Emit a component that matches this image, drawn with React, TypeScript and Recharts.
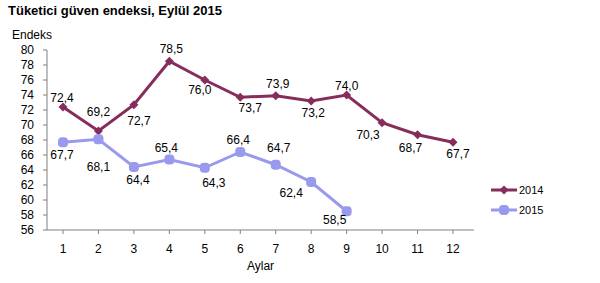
import { LabelList, Line, LineChart, XAxis, YAxis } from "recharts";

const months = ["1", "2", "3", "4", "5", "6", "7", "8", "9", "10", "11", "12"];
const values2014 = [72.4, 69.2, 72.7, 78.5, 76.0, 73.7, 73.9, 73.2, 74.0, 70.3, 68.7, 67.7];
const values2015 = [67.7, 68.1, 64.4, 65.4, 64.3, 66.4, 64.7, 62.4, 58.5];
const yTicks = [56, 58, 60, 62, 64, 66, 68, 70, 72, 74, 76, 78, 80];

// label nudges [dx, dy] per point, as placed in the original
const offsets2014 = [[-1, -9], [0, -19], [5, 16], [2, -12], [-5, 10], [10, 11], [2, -12], [2, 12], [0, -9], [-14, 12], [-7, 13], [5, 12]];
const offsets2015 = [[-1, 13], [0, 28], [4, 13], [-3, -12], [9, 15], [-2, -12], [3, -17], [-20, 11], [-12, 9]];

const c2014 = "#862d5c";
const c2015 = "#9999ee";
const font = "Arial, 'Liberation Sans', sans-serif";

const data = months.map((m, i) => ({ month: m, y2014: values2014[i], y2015: values2015[i] ?? null }));

const fmt = (v: number) => v.toFixed(1).replace(".", ",");

function Diamond({ cx, cy }: any) {
  if (cx == null || cy == null) return null;
  return <path d={`M${cx},${cy - 4.5}L${cx + 4.5},${cy}L${cx},${cy + 4.5}L${cx - 4.5},${cy}Z`} fill={c2014} />;
}

function Dot({ cx, cy }: any) {
  if (cx == null || cy == null) return null;
  return <rect x={cx - 5} y={cy - 5} width={10} height={10} rx={4} fill={c2015} />;
}

const makeLabel = (offsets: number[][]) => (props: any) => {
  const { x, y, value, index } = props;
  if (value == null) return null;
  const [dx, dy] = offsets[index] ?? [0, -10];
  return (
    <text x={x + dx} y={y + dy} textAnchor="middle" dominantBaseline="central" fontSize={12} fill="#000" fontFamily={font}>
      {fmt(value)}
    </text>
  );
};

function LegendBox() {
  const rows = [
    { name: "2014", color: c2014, marker: <path d="M13,-4.5L17.5,0L13,4.5L8.5,0Z" fill={c2014} /> },
    { name: "2015", color: c2015, marker: <rect x={8} y={-5} width={10} height={10} rx={4} fill={c2015} /> },
  ];
  return (
    <svg width={70} height={40} style={{ position: "absolute", left: 491, top: 181 }}>
      {rows.map((r, i) => (
        <g key={r.name} transform={`translate(0, ${9 + i * 20})`}>
          <line x1={0} x2={26} y1={0} y2={0} stroke={r.color} strokeWidth={3} />
          {r.marker}
          <text x={28} y={0} dominantBaseline="central" fontSize={11} fontFamily={font} fill="#000">{r.name}</text>
        </g>
      ))}
    </svg>
  );
}

export default function App() {
  return (
    <div style={{ position: "absolute", left: 0, top: 0, width: 600, height: 283, background: "#fff", fontFamily: font }}>
      <div style={{ position: "absolute", left: 8, top: 3, fontSize: 13, fontWeight: "bold", color: "#000" }}>Tüketici güven endeksi, Eylül 2015</div>
      <div style={{ position: "absolute", left: 12, top: 28, fontSize: 12, color: "#000" }}>Endeks</div>
      <LineChart width={600} height={283} data={data} margin={{ top: 50, right: 126, left: 7, bottom: 13 }}>
        <XAxis
          dataKey="month"
          stroke="#808080"
          padding={{ left: 16, right: 21 }}
          tick={{ fill: "#000", fontSize: 12, fontFamily: font }}
          tickSize={4}
          tickMargin={10}
          height={40}
          label={{ value: "Aylar", position: "insideBottom", offset: 0, fill: "#000", fontSize: 12, fontFamily: font }}
        />
        <YAxis
          domain={[56, 80]}
          ticks={yTicks}
          interval={0}
          stroke="#808080"
          tick={{ fill: "#000", fontSize: 12, fontFamily: font }}
          tickSize={4}
          tickMargin={9}
          width={40}
        />
        <Line dataKey="y2014" name="2014" stroke={c2014} strokeWidth={3} dot={<Diamond />} activeDot={false} isAnimationActive={false}>
          <LabelList dataKey="y2014" content={makeLabel(offsets2014)} />
        </Line>
        <Line dataKey="y2015" name="2015" stroke={c2015} strokeWidth={3} dot={<Dot />} activeDot={false} isAnimationActive={false}>
          <LabelList dataKey="y2015" content={makeLabel(offsets2015)} />
        </Line>
      </LineChart>
      <LegendBox />
    </div>
  );
}
